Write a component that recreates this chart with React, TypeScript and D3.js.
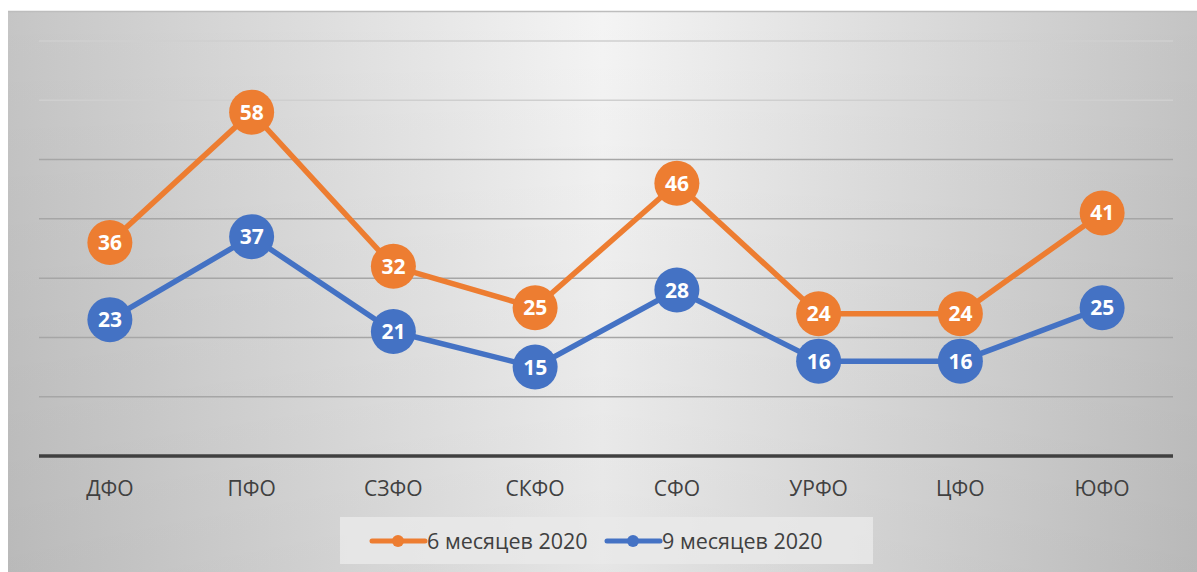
import React, { useEffect, useRef } from 'react';
import * as d3 from 'd3';

const categories = ['ДФО', 'ПФО', 'СЗФО', 'СКФО', 'СФО', 'УРФО', 'ЦФО', 'ЮФО'];
const sixMonths = [36, 58, 32, 25, 46, 24, 24, 41];
const nineMonths = [23, 37, 21, 15, 28, 16, 16, 25];
const yTicks = [10, 20, 30, 40, 50, 60, 70];

const series = [
  { name: '6 месяцев 2020', values: sixMonths, color: '#ED7D31' },
  { name: '9 месяцев 2020', values: nineMonths, color: '#4472C4' },
];

const App = () => {
  const svgRef = useRef<SVGSVGElement>(null);

  useEffect(() => {
    if (!svgRef.current) return;
    const svg = d3.select(svgRef.current);
    svg.selectAll('*').remove();

    const W = 1197;
    const H = 572;
    const left = 39, right = 1173, top = 41, bottom = 456;

    const defs = svg.append('defs');
    const hg = defs.append('linearGradient').attr('id', 'bgH').attr('x1', 0).attr('x2', 1).attr('y1', 0).attr('y2', 0);
    hg.append('stop').attr('offset', '0%').attr('stop-color', '#c5c5c5');
    hg.append('stop').attr('offset', '50%').attr('stop-color', '#f4f4f4');
    hg.append('stop').attr('offset', '100%').attr('stop-color', '#c4c4c4');
    const vg = defs.append('linearGradient').attr('id', 'bgV').attr('x1', 0).attr('x2', 0).attr('y1', 0).attr('y2', 1);
    vg.append('stop').attr('offset', '0%').attr('stop-color', '#000').attr('stop-opacity', 0);
    vg.append('stop').attr('offset', '100%').attr('stop-color', '#000').attr('stop-opacity', 0.06);

    // background
    svg.append('rect').attr('x', 8).attr('y', 11).attr('width', W - 8).attr('height', H - 11).attr('fill', 'url(#bgH)');
    svg.append('rect').attr('x', 8).attr('y', 11).attr('width', W - 8).attr('height', H - 11).attr('fill', 'url(#bgV)');
    svg.append('line').attr('x1', 8).attr('x2', W).attr('y1', 11.5).attr('y2', 11.5).attr('stroke', '#bdbdbd').attr('stroke-width', 1.5);

    const x = d3.scalePoint<string>().domain(categories).range([left, right]).padding(0.5);
    const y = d3.scaleLinear().domain([0, 70]).range([bottom, top]);

    // grid
    svg.append('g').selectAll('line').data(yTicks).enter().append('line')
      .attr('x1', left).attr('x2', right)
      .attr('y1', d => y(d)).attr('y2', d => y(d))
      .attr('stroke', d => (d >= 60 ? '#cfcfcf' : '#a6a6a6'))
      .attr('stroke-width', 1.5);

    svg.append('line').attr('x1', left).attr('x2', right).attr('y1', bottom).attr('y2', bottom)
      .attr('stroke', '#404040').attr('stroke-width', 3.5);

    // category labels
    svg.append('g').selectAll('text').data(categories).enter().append('text')
      .attr('x', d => x(d)!).attr('y', 496)
      .attr('text-anchor', 'middle')
      .attr('font-family', '"Open Sans", "Noto Sans", sans-serif')
      .attr('font-size', 21)
      .attr('fill', '#404040')
      .text(d => d);

    const line = d3.line<number>().x((_, i) => x(categories[i])!).y(d => y(d));

    series.forEach(s => {
      svg.append('path').datum(s.values).attr('d', line)
        .attr('fill', 'none').attr('stroke', s.color).attr('stroke-width', 5.5)
        .attr('stroke-linejoin', 'round');
    });

    series.forEach(s => {
      const g = svg.append('g');
      const pts = g.selectAll('g').data(s.values).enter().append('g')
        .attr('transform', (d, i) => `translate(${x(categories[i])},${y(d)})`);
      pts.append('circle').attr('r', 22.5).attr('fill', s.color);
      pts.append('text')
        .attr('text-anchor', 'middle').attr('dy', '0.36em')
        .attr('font-family', '"Open Sans", "Noto Sans", sans-serif')
        .attr('font-weight', 700).attr('font-size', 21)
        .attr('fill', '#ffffff')
        .text(d => d);
    });

    // legend
    svg.append('rect').attr('x', 340).attr('y', 517).attr('width', 533).attr('height', 47)
      .attr('fill', '#e9e9e9').attr('opacity', 0.85);
    const legendX = [372, 607];
    series.forEach((s, i) => {
      const lx = legendX[i];
      const g = svg.append('g');
      g.append('line').attr('x1', lx).attr('x2', lx + 53).attr('y1', 541).attr('y2', 541)
        .attr('stroke', s.color).attr('stroke-width', 5).attr('stroke-linecap', 'round');
      g.append('circle').attr('cx', lx + 26).attr('cy', 541).attr('r', 6).attr('fill', s.color);
      g.append('text').attr('x', lx + 55).attr('y', 549)
        .attr('font-family', '"Open Sans", "Noto Sans", sans-serif')
        .attr('font-size', 21.5).attr('fill', '#404040')
        .text(s.name);
    });
  }, []);

  return (
    <svg ref={svgRef} width={1197} height={572}
      style={{ position: 'absolute', left: 0, top: 0, display: 'block', background: '#fff' }} />
  );
};

export default App;
